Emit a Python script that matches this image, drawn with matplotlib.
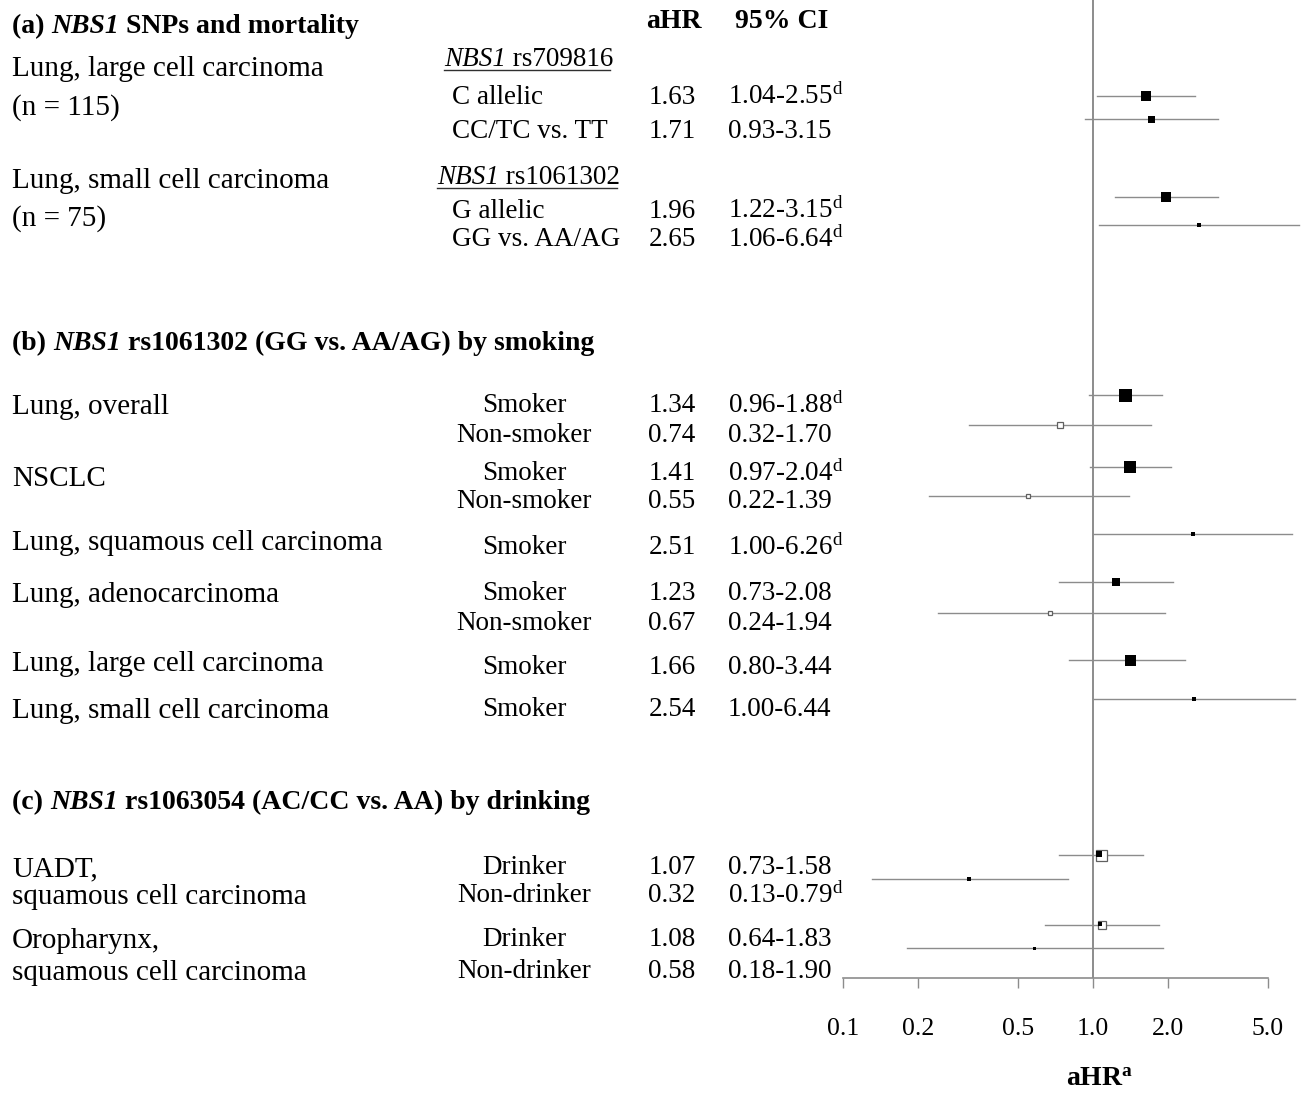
import numpy as np
import matplotlib
matplotlib.use("Agg")
import matplotlib.pyplot as plt

plt.rcParams['font.family'] = ['Liberation Serif', 'DejaVu Serif']
plt.rcParams['mathtext.fontset'] = 'custom'
plt.rcParams['mathtext.rm'] = 'Liberation Serif'
plt.rcParams['mathtext.it'] = 'Liberation Serif:italic'
plt.rcParams['mathtext.bf'] = 'Liberation Serif:bold'

# data
subgroups = ['C allelic', 'CC/TC vs. TT', 'G allelic', 'GG vs. AA/AG',
             'Smoker', 'Non-smoker', 'Smoker', 'Non-smoker', 'Smoker',
             'Smoker', 'Non-smoker', 'Smoker', 'Smoker',
             'Drinker', 'Non-drinker', 'Drinker', 'Non-drinker']
ahr = [1.63, 1.71, 1.96, 2.65, 1.34, 0.74, 1.41, 0.55, 2.51,
       1.23, 0.67, 1.66, 2.54, 1.07, 0.32, 1.08, 0.58]
ci_low = [1.04, 0.93, 1.22, 1.06, 0.96, 0.32, 0.97, 0.22, 1.00,
          0.73, 0.24, 0.80, 1.00, 0.73, 0.13, 0.64, 0.18]
ci_high = [2.55, 3.15, 3.15, 6.64, 1.88, 1.70, 2.04, 1.39, 6.26,
           2.08, 1.94, 3.44, 6.44, 1.58, 0.79, 1.83, 1.90]
signif = [1, 0, 1, 1, 1, 0, 1, 0, 1, 0, 0, 0, 0, 0, 1, 0, 0]

# in the source picture the large cell (smoker) box and whisker are drawn
# at ~1.40 (0.80-2.32), not at the tabulated 1.66 (0.80-3.44)
mark_hr = list(ahr)
mark_high = list(ci_high)
mark_hr[11] = 1.40
mark_high[11] = 2.32

groups = ['Lung, large cell carcinoma', '(n = 115)',
          'Lung, small cell carcinoma', '(n = 75)',
          'Lung, overall', 'NSCLC', 'Lung, squamous cell carcinoma',
          'Lung, adenocarcinoma', 'Lung, large cell carcinoma',
          'Lung, small cell carcinoma',
          'UADT,', 'squamous cell carcinoma',
          'Oropharynx,', 'squamous cell carcinoma']
ticks = [0.1, 0.2, 0.5, 1.0, 2.0, 5.0]

# layout (pixel rows of the picture)
row_text_y = [94, 128, 208, 237, 403, 433, 471, 498, 545, 591, 621, 665, 707,
              865, 893, 937, 969]
row_mark_y = [96, 119, 197, 225, 395, 425, 467, 496, 534, 582, 613, 660, 699,
              855, 879, 925, 948]
group_y = [66, 105, 178, 216, 404, 476, 540, 592, 661, 708, 866, 894, 938, 970]
box_px = [10, 7, 10, 5, 13, 6, 12, 5, 5, 8, 4, 11, 5, 11, 5, 8, 3]
hollow = [0, 0, 0, 0, 0, 1, 0, 1, 0, 0, 1, 0, 0, 2, 0, 2, 0]

W, H = 1301, 1097
dy = 3  # va='center' sits a bit high for this font
fig = plt.figure(figsize=(W / 100, H / 100), dpi=100)

# text layer in pixel coordinates
tx = fig.add_axes([0, 0, 1, 1])
tx.set_xlim(0, W)
tx.set_ylim(H, 0)
tx.axis('off')

# forest plot axes
x0, x1, yb = 843, 1268, 978
ax = fig.add_axes([x0 / W, (H - yb) / H, (x1 - x0) / W, yb / H])
ax.set_xscale('log')
ax.set_xlim(0.1, 5.0)
ax.set_ylim(yb, 0)
ax.patch.set_alpha(0)
for s in ['left', 'right', 'top']:
    ax.spines[s].set_visible(False)
ax.spines['bottom'].set_color('#8c8c8c')
ax.spines['bottom'].set_linewidth(1.2)
ax.set_yticks([])
ax.set_xticks(ticks)
ax.set_xticklabels(['%.1f' % t for t in ticks], fontsize=18.5)
ax.xaxis.set_minor_locator(matplotlib.ticker.NullLocator())
ax.tick_params(axis='x', direction='out', length=7.5, width=1.0,
               color='#8c8c8c', pad=21)
ax.axvline(1.0, color='#8c8c8c', lw=1.4, zorder=1)

gray = '#8c8c8c'
for i in range(len(ahr)):
    y = row_mark_y[i]
    ax.plot([ci_low[i], mark_high[i]], [y, y], color=gray, lw=1.0,
            clip_on=False, zorder=2)
    ms = box_px[i] * 0.72
    if hollow[i] == 1:
        ax.plot(mark_hr[i], y, 's', ms=ms, mfc='white', mec='#606060', mew=0.9,
                clip_on=False, zorder=3)
    elif hollow[i] == 2:
        ax.plot(mark_hr[i], y, 's', ms=ms, mfc='white', mec='#606060', mew=0.9,
                clip_on=False, zorder=3)
        ax.plot(mark_hr[i] * 0.99, y - 1, 's', ms=ms * 0.6, mfc='black',
                mec='black', mew=0, clip_on=False, zorder=4)
    else:
        ax.plot(mark_hr[i], y, 's', ms=ms, mfc='black', mec='black', mew=0,
                clip_on=False, zorder=3)

renderer = fig.canvas.get_renderer()


def rich(x, y, parts, size):
    # draw pieces one after another on a common baseline
    for s, style, weight in parts:
        t = tx.text(x, y, s, fontsize=size, style=style, weight=weight,
                    va='baseline', ha='left')
        x += t.get_window_extent(renderer).width
    return x


fs_left, fs_mid, fs_head = 21, 19.5, 20

# section headers
rich(12, 33, [('(a) ', 'normal', 'bold'), ('NBS1', 'italic', 'bold'),
              (' SNPs and mortality', 'normal', 'bold')], fs_head)
rich(12, 350, [('(b) ', 'normal', 'bold'), ('NBS1', 'italic', 'bold'),
               (' rs1061302 (GG vs. AA/AG) by smoking', 'normal', 'bold')], fs_head)
rich(12, 809, [('(c) ', 'normal', 'bold'), ('NBS1', 'italic', 'bold'),
               (' rs1063054 (AC/CC vs. AA) by drinking', 'normal', 'bold')], fs_head)
tx.text(674, 18 + dy, 'aHR', fontsize=fs_head, weight='bold', ha='center', va='center')
tx.text(735, 18 + dy, '95% CI', fontsize=fs_head, weight='bold', ha='left', va='center')

# SNP labels with underline
for xs, yc, snp in [(444, 66, ' rs709816'), (437, 184, ' rs1061302')]:
    xe = rich(xs, yc, [('NBS1', 'italic', 'normal'), (snp, 'normal', 'normal')], fs_mid)
    tx.plot([xs, xe - 3], [yc + 4, yc + 4], color='#303030', lw=1.0)

for g, y in zip(groups, group_y):
    tx.text(12, y + dy, g, fontsize=fs_left, ha='left', va='center')

for i in range(len(ahr)):
    y = row_text_y[i] + dy
    if i < 4:
        tx.text(452, y, subgroups[i], fontsize=fs_mid, ha='left', va='center')
    else:
        tx.text(524, y, subgroups[i], fontsize=fs_mid, ha='center', va='center')
    tx.text(672, y, '%.2f' % ahr[i], fontsize=fs_mid, ha='center', va='center')
    ci = '%.2f-%.2f' % (ci_low[i], ci_high[i])
    if signif[i]:
        ci += r'$^{\mathrm{d}}$'
    tx.text(728, y, ci, fontsize=fs_mid, ha='left', va='center')

tx.text(1100, 1080, r'aHR$^{\mathbf{a}}$', fontsize=fs_head, weight='bold',
        ha='center', va='center')

fig.savefig('out.png', dpi=100)
